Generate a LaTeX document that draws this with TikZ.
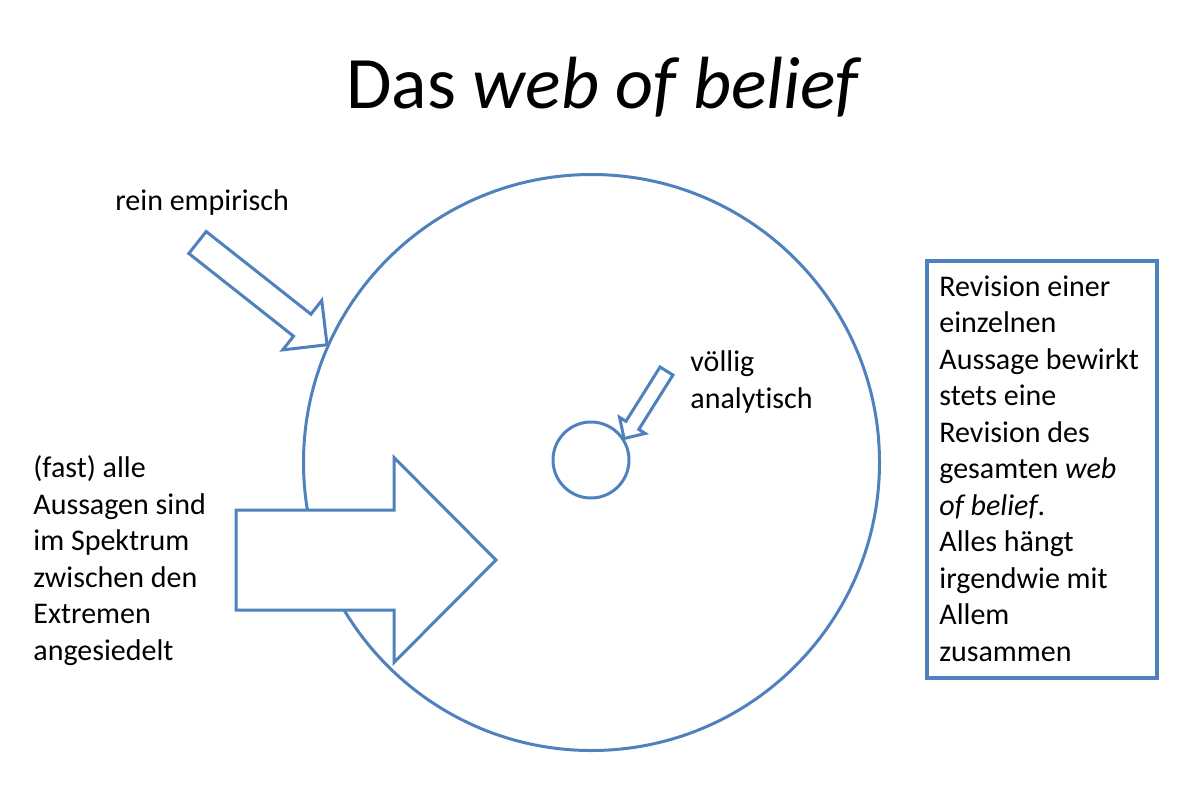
\documentclass[tikz,border=0pt]{standalone}
\usepackage{fontspec}
\setmainfont{Carlito}[Ligatures=NoCommon]
\usetikzlibrary{calc}

\definecolor{rahmenblau}{HTML}{4F81BD}

% hollow block arrow: tail, tip, half shaft width, half head width, head length
\newcommand{\blockpfeil}[5]{%
  \coordinate (#2-basis) at ($(#2)!#5!(#1)$);
  \draw[pfeil] ($(#1)!#3!90:(#2)$) -- ($(#2-basis)!#3!90:(#2)$)
    -- ($(#2-basis)!#4!90:(#2)$) -- (#2) -- ($(#2-basis)!#4!-90:(#2)$)
    -- ($(#2-basis)!#3!-90:(#2)$) -- ($(#1)!#3!-90:(#2)$) -- cycle;}

\begin{document}
\begin{tikzpicture}[x=0.5pt,y=-0.5pt,
    linie/.style={draw=rahmenblau,line width=1.5pt},
    kreis/.style={linie,circle,inner sep=0pt},
    pfeil/.style={linie,fill=white,line join=miter},
    beschriftung/.style={font=\fontsize{15}{18.25}\selectfont,align=left,anchor=base west,inner sep=0pt}]
    \useasboundingbox (0,0) rectangle (1204,798);

    % Title
    \node[font=\fontsize{37}{44}\selectfont,anchor=base] (titel) at (604,108) {Das \textit{web of belief}};

    % Web and its analytic core
    \node[kreis,minimum size=288pt] (netz) at (591.5,462.5) {};
    \node[kreis,minimum size=38pt] (kern) at (591,460) {};

    % Arrows
    \coordinate (empirisch-fuss) at (197.5,242.5);
    \coordinate (empirisch-spitze) at (netz.156);
    \blockpfeil{empirisch-fuss}{empirisch-spitze}{7pt}{15.75pt}{15.8pt}

    \coordinate (analytisch-fuss) at (666.5,371);
    \coordinate (analytisch-spitze) at (kern.33);
    \blockpfeil{analytisch-fuss}{analytisch-spitze}{3.8pt}{7.6pt}{7.75pt}

    \coordinate (spektrum-fuss) at (236,560);
    \coordinate (spektrum-spitze) at (496,560);
    \blockpfeil{spektrum-fuss}{spektrum-spitze}{25pt}{51.25pt}{51pt}

    % Labels (base = last line)
    \node[beschriftung] (empirisch) at (115,210) {rein empirisch};
    \node[beschriftung] (analytisch) at (690,408) {völlig\\analytisch};
    \node[beschriftung] (spektrum) at (33,660) {(fast) alle\\Aussagen sind\\im Spektrum\\zwischen den\\Extremen\\angesiedelt};

    % Box on the right
    \node[draw=rahmenblau,line width=2pt,anchor=north west,minimum width=115pt,minimum height=208.5pt] (revision) at (925,259) {};
    \node[beschriftung] (revisiontext) at (939,661) {Revision einer\\einzelnen\\Aussage bewirkt\\stets eine\\Revision des\\gesamten \textit{web}\\\textit{of belief}.\\Alles hängt\\irgendwie mit\\Allem\\zusammen};
\end{tikzpicture}
\end{document}
